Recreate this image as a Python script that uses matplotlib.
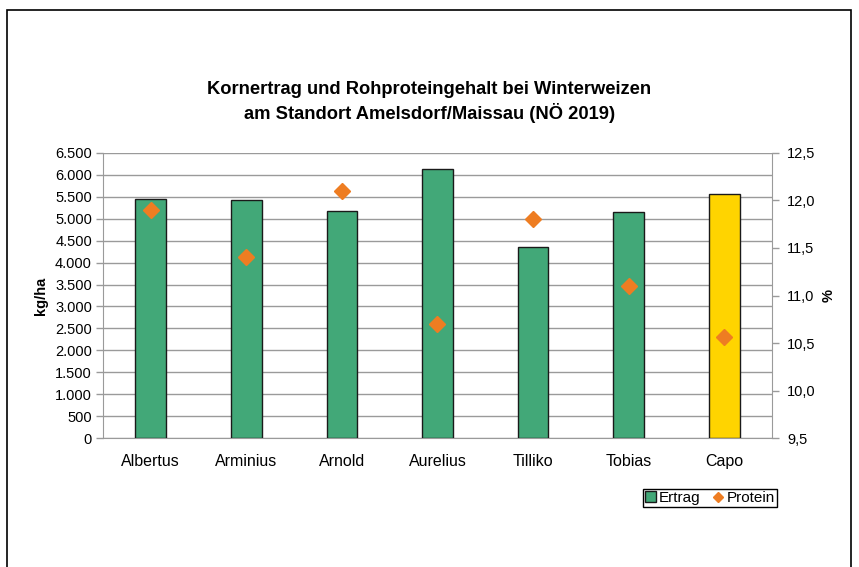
import matplotlib.pyplot as plt
from matplotlib.ticker import FuncFormatter, MultipleLocator
from matplotlib.patches import Rectangle
from matplotlib.lines import Line2D

sorten = ["Albertus", "Arminius", "Arnold", "Aurelius", "Tilliko", "Tobias", "Capo"]
ertrag = [5435, 5420, 5175, 6130, 4360, 5160, 5550]
protein = [11.9, 11.4, 12.1, 10.7, 11.8, 11.1, 10.56]
bar_colors = ["#42A878"] * 6 + ["#FFD400"]

plt.rcParams["font.family"] = ["Liberation Sans", "DejaVu Sans"]

fig = plt.figure(figsize=(8.59, 5.67), dpi=100)

# outer frame
fig.patches.append(Rectangle((7 / 859, -0.05), 844 / 859, 1.05 - 10 / 567,
                             transform=fig.transFigure, fill=False,
                             edgecolor="black", linewidth=1.2))

ax = fig.add_axes([103 / 859, 1 - 438.3 / 567, 669 / 859, (438.3 - 152.7) / 567])
x = list(range(len(sorten)))
ax.bar(x, ertrag, width=0.32, color=bar_colors, edgecolor="#1a1a1a",
       linewidth=1.0, zorder=3)
ax.set_xlim(-0.5, len(sorten) - 0.5)
ax.set_ylim(0, 6500)
ax.yaxis.set_major_locator(MultipleLocator(500))
ax.yaxis.set_major_formatter(FuncFormatter(lambda v, p: f"{int(v):,}".replace(",", ".")))
ax.grid(axis="y", color="#9a9a9a", linewidth=1.0, zorder=0)
ax.set_xticks(x)
ax.set_xticklabels(sorten, fontsize=11.5)
ax.tick_params(axis="x", length=0, pad=11)
ax.tick_params(axis="y", labelsize=10.5, length=5, color="#9a9a9a", width=1, pad=3)
for s in ["top", "right"]:
    ax.spines[s].set_visible(False)
ax.spines["left"].set_color("#9a9a9a")
ax.spines["bottom"].set_color("#9a9a9a")
ax.set_ylabel("kg/ha", fontsize=10.5, fontweight="bold", labelpad=5)

ax2 = ax.twinx()
ax2.plot(x, protein, linestyle="none", marker="D", markersize=8,
         color="#EE7D22", zorder=4)
ax2.set_ylim(9.5, 12.5)
ax2.yaxis.set_major_locator(MultipleLocator(0.5))
ax2.yaxis.set_major_formatter(FuncFormatter(lambda v, p: f"{v:.1f}".replace(".", ",")))
ax2.tick_params(axis="y", labelsize=10.5, length=5, color="#9a9a9a", width=1, pad=6)
for s in ["top", "left", "bottom"]:
    ax2.spines[s].set_visible(False)
ax2.spines["right"].set_color("#9a9a9a")
ax2.set_ylabel("%", fontsize=10.5, fontweight="bold", labelpad=4)

fig.text(0.5, 1 - 90 / 567, "Kornertrag und Rohproteingehalt bei Winterweizen",
         ha="center", va="center", fontsize=13.2, fontweight="bold")
fig.text(0.5, 1 - 113 / 567, "am Standort Amelsdorf/Maissau (NÖ 2019)",
         ha="center", va="center", fontsize=13.2, fontweight="bold")

handles = [
    Rectangle((0, 0), 1, 1, facecolor="#42A878", edgecolor="#1a1a1a", linewidth=1),
    Line2D([], [], linestyle="none", marker="D", markersize=5, color="#EE7D22"),
]
fig.legend(handles, ["Ertrag", "Protein"], loc="center",
           bbox_to_anchor=(710 / 859, 1 - 498 / 567), ncol=2, fontsize=11,
           frameon=True, fancybox=False, edgecolor="black", framealpha=1,
           handlelength=0.7, handleheight=0.7, handletextpad=0.2,
           columnspacing=0.8, borderpad=0.15, borderaxespad=0)

fig.savefig("out.png", dpi=100)
